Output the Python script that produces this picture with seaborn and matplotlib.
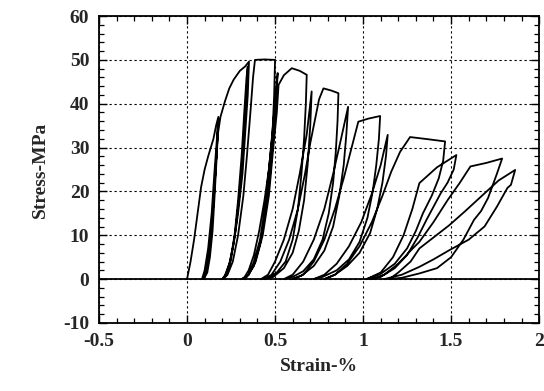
import matplotlib
matplotlib.use("Agg")
import matplotlib.pyplot as plt
from matplotlib.ticker import MultipleLocator
import seaborn as sns
import pandas as pd

# stress-strain path, one list per amplitude level
# (strain %, stress MPa)
level1 = [(0.00, 0), (0.02, 4), (0.04, 9), (0.06, 15), (0.08, 21), (0.10, 25),
          (0.12, 28), (0.15, 32), (0.165, 35), (0.178, 37),
          (0.17, 30), (0.155, 20), (0.14, 12), (0.125, 6), (0.11, 2), (0.095, 0.3), (0.085, 0),
          (0.10, 2), (0.12, 7), (0.14, 15), (0.155, 24), (0.168, 31), (0.178, 36.5),
          (0.17, 29), (0.158, 20), (0.145, 11), (0.13, 5), (0.115, 1.5), (0.095, 0),
          (0.11, 2), (0.13, 8), (0.15, 17), (0.165, 27), (0.175, 33), (0.19, 37),
          (0.215, 40.5), (0.24, 43.5), (0.265, 45.5), (0.30, 47.5), (0.33, 48.5), (0.352, 49.6)]
level2 = [(0.345, 42), (0.33, 33), (0.315, 24), (0.29, 15), (0.265, 8), (0.24, 3.5),
          (0.215, 0.8), (0.20, 0),
          (0.22, 1), (0.245, 4), (0.27, 10), (0.29, 18), (0.31, 28), (0.325, 38),
          (0.338, 46), (0.345, 48.5),
          (0.335, 40), (0.32, 30), (0.30, 20), (0.275, 11), (0.25, 4.5), (0.225, 1), (0.205, 0),
          (0.23, 1), (0.26, 4), (0.29, 10), (0.32, 19), (0.34, 28), (0.36, 38), (0.375, 46),
          (0.386, 50), (0.44, 50.1), (0.50, 50)]
level3 = [(0.495, 42), (0.485, 33), (0.465, 25), (0.44, 18), (0.41, 11), (0.38, 5.5),
          (0.35, 2), (0.32, 0),
          (0.35, 1), (0.38, 4), (0.415, 9), (0.445, 17), (0.47, 27), (0.495, 38), (0.51, 45), (0.515, 47),
          (0.505, 40), (0.49, 32), (0.47, 23), (0.445, 15), (0.415, 8), (0.38, 3), (0.34, 0.5), (0.31, 0),
          (0.35, 1), (0.39, 4), (0.43, 10), (0.465, 19), (0.49, 30), (0.51, 38), (0.52, 44.3),
          (0.55, 46.5), (0.595, 48.1), (0.64, 47.5), (0.68, 46.6)]
level4 = [(0.675, 40), (0.665, 32), (0.65, 24), (0.63, 16), (0.60, 9), (0.56, 4),
          (0.51, 1.5), (0.46, 0.3), (0.42, 0),
          (0.46, 1), (0.50, 4), (0.55, 9), (0.60, 16), (0.64, 24), (0.68, 33), (0.708, 42.8),
          (0.70, 35), (0.685, 26), (0.665, 18), (0.635, 11), (0.60, 6), (0.55, 2.5),
          (0.49, 0.5), (0.44, 0),
          (0.48, 1), (0.53, 4), (0.58, 9), (0.63, 16), (0.67, 24), (0.70, 31), (0.73, 37),
          (0.75, 41), (0.775, 43.5), (0.82, 43), (0.86, 42.4)]
level5 = [(0.855, 36), (0.845, 29), (0.83, 22), (0.805, 15), (0.77, 9), (0.72, 4.5),
          (0.66, 1.8), (0.60, 0.5), (0.55, 0),
          (0.60, 1), (0.66, 4), (0.72, 9), (0.78, 16), (0.83, 24), (0.875, 32), (0.915, 39.3),
          (0.905, 33), (0.89, 26), (0.865, 19), (0.83, 12), (0.78, 6.5), (0.72, 3),
          (0.65, 0.8), (0.60, 0),
          (0.66, 1), (0.72, 4), (0.78, 9), (0.84, 16), (0.89, 23), (0.935, 30), (0.973, 35.9),
          (1.03, 36.6), (1.097, 37.2)]
level6 = [(1.09, 32), (1.075, 26), (1.055, 20), (1.025, 14), (0.98, 8.5), (0.92, 4.5),
          (0.85, 2), (0.77, 0.5), (0.72, 0),
          (0.78, 1), (0.85, 3.5), (0.92, 7.5), (0.99, 13), (1.05, 19.5), (1.10, 26), (1.14, 32.9),
          (1.13, 28), (1.11, 22), (1.08, 16), (1.04, 10.5), (0.98, 6), (0.91, 3),
          (0.84, 1), (0.78, 0),
          (0.84, 1), (0.91, 3.5), (0.98, 7.5), (1.05, 13), (1.11, 19), (1.16, 24.5), (1.21, 29),
          (1.267, 32.4), (1.37, 31.9), (1.466, 31.4)]
level7 = [(1.455, 27), (1.43, 23), (1.39, 19), (1.34, 15), (1.30, 11), (1.25, 7),
          (1.18, 3.5), (1.10, 1.2), (1.02, 0),
          (1.10, 1.5), (1.17, 5), (1.23, 10), (1.28, 16), (1.32, 21.9), (1.42, 25.5), (1.53, 28.3),
          (1.515, 25), (1.48, 22), (1.44, 19.5), (1.40, 16.5), (1.36, 13.5), (1.31, 9.5),
          (1.25, 5.5), (1.18, 2.5), (1.10, 0.5), (1.05, 0),
          (1.12, 1), (1.20, 3.5), (1.27, 6.5), (1.32, 8.5), (1.40, 13), (1.48, 18), (1.55, 22),
          (1.61, 25.7), (1.70, 26.5), (1.79, 27.5)]
level8 = [(1.76, 24), (1.71, 18.5), (1.67, 15.5), (1.63, 13.5), (1.57, 9), (1.50, 5),
          (1.42, 2.5), (1.32, 1.3), (1.22, 0.3), (1.15, 0),
          (1.20, 1.5), (1.27, 4), (1.32, 7), (1.40, 9.5), (1.49, 12.3), (1.58, 15.5),
          (1.68, 19.2), (1.77, 22.5), (1.864, 24.9),
          (1.84, 21.5), (1.82, 20.8), (1.76, 16.5), (1.69, 12), (1.60, 9), (1.49, 6.6),
          (1.40, 4.5), (1.32, 2.8), (1.22, 1), (1.12, 0)]

levels = [level1, level2, level3, level4, level5, level6, level7, level8]

rows = []
for lv in levels:
    for e, s in lv:
        rows.append({"strain": e, "stress": s})
df = pd.DataFrame(rows)

sns.set_style("ticks")
plt.rcParams["font.family"] = ["Liberation Serif", "DejaVu Serif"]
plt.rcParams["axes.unicode_minus"] = False

fig = plt.figure(figsize=(5.44, 3.91), dpi=100)
ax = fig.add_axes([0.182, 0.174, 0.809, 0.785])

sns.lineplot(data=df, x="strain", y="stress", sort=False, estimator=None,
             color="black", linewidth=1.3, ax=ax)
ax.axhline(0, color="black", linewidth=1.3, zorder=1)

ax.set_xlim(-0.5, 2)
ax.set_ylim(-10, 60)
ax.xaxis.set_major_locator(MultipleLocator(0.5))
ax.xaxis.set_minor_locator(MultipleLocator(0.1))
ax.yaxis.set_major_locator(MultipleLocator(10))
ax.yaxis.set_minor_locator(MultipleLocator(2))
ax.set_xticks([-0.5, 0, 0.5, 1, 1.5, 2])
ax.set_xticklabels(["-0.5", "0", "0.5", "1", "1.5", "2"])

ax.grid(True, which="major", color="black", linestyle=(0, (2, 2.5)), linewidth=0.8)
ax.tick_params(which="both", direction="in", top=True, right=True, color="black")
ax.tick_params(which="major", length=6, width=1, labelsize=14, pad=7)
ax.tick_params(which="minor", length=3.5, width=0.9)
for lab in ax.get_xticklabels() + ax.get_yticklabels():
    lab.set_fontweight("bold")
for sp in ax.spines.values():
    sp.set_color("black")
    sp.set_linewidth(1.3)

ax.set_xlabel("Strain-%", fontsize=14, fontweight="bold", labelpad=6)
ax.set_ylabel("Stress-MPa", fontsize=14, fontweight="bold", labelpad=10)

fig.savefig("out.png", dpi=100)
